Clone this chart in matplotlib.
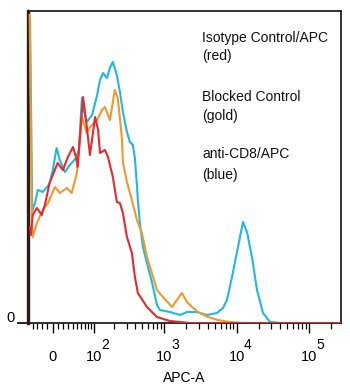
#!/usr/bin/env python3
"""Flow cytometry histogram overlay: APC-A on a biexponential-like axis."""

import numpy as np
import matplotlib
matplotlib.use("Agg")
import matplotlib.pyplot as plt
from matplotlib import transforms
from matplotlib.ticker import FixedLocator, NullFormatter

plt.rcParams["font.family"] = ["Liberation Sans", "DejaVu Sans"]

# APC-A intensity (x) and event count (y)
cyan_apc = [-46, -41, -35, -29, -19, -9, -6, 0, 7, 13,
            23, 33, 47, 54, 62, 67, 76, 93, 112, 124,
            138, 157, 174, 192, 219, 242, 267, 304, 335, 368,
            393, 419, 432, 461, 508, 577, 677, 794, 873, 1199,
            1650, 2059, 2826, 3884, 5335, 6458, 7330, 8600, 10395, 12186,
            13835, 16200, 19000, 23000, 28724, 40000, 262144]
cyan_count = [302, 112, 120, 133, 131, 137, 140, 153, 175, 163,
              151, 158, 165, 173, 225, 213, 201, 208, 228, 243,
              250, 245, 255, 261, 248, 231, 211, 191, 181, 178,
              165, 138, 123, 100, 76, 60, 41, 18, 13, 11,
              8, 11, 11, 8, 10, 15, 23, 46, 76, 101,
              91, 66, 33, 10, 1, 0, 0]

red_apc = [-46, -44, -40, -31, -21, -15, -6, 9, 19, 29,
           40, 47, 51, 65, 76, 86, 104, 116, 124, 147,
           163, 192, 219, 242, 267, 304, 357, 393, 432, 577,
           794, 1199, 2264, 262144]
red_count = [96, 88, 108, 115, 108, 118, 140, 160, 153, 166,
             176, 166, 156, 226, 196, 168, 206, 193, 170, 173,
             166, 146, 121, 120, 110, 86, 70, 46, 30, 16,
             6, 2, 0, 0]

orange_apc = [-47, -42, -40, -31, -19, -9, 4, 13, 27, 37,
              49, 62, 76, 86, 112, 133, 147, 174, 205, 226,
              242, 258, 267, 304, 357, 419, 492, 577, 677, 794,
              961, 1280, 1755, 2059, 2416, 2919, 4013, 5511, 8067, 12000,
              262144]
orange_count = [308, 100, 86, 100, 113, 120, 136, 130, 135, 130,
                150, 206, 190, 196, 203, 213, 216, 203, 233, 225,
                205, 185, 161, 141, 123, 103, 90, 66, 50, 33,
                26, 16, 30, 21, 16, 11, 6, 3, 1, 0,
                0]

major_ticks = [0, 100, 1000, 10000, 100000]
major_exponents = [None, "2", "3", "4", "5"]
minor_ticks = ([-40, -30, -20, -10]
               + list(range(10, 100, 10))
               + list(range(200, 1000, 100))
               + list(range(2000, 10000, 1000))
               + list(range(20000, 100000, 10000))
               + [200000])

legend_lines = ["Isotype Control/APC", "(red)", "Blocked Control", "(gold)",
                "anti-CD8/APC", "(blue)"]

W = 58.5  # linear width of the asinh transform


def fwd(x):
    return np.arcsinh(np.asarray(x, dtype=float) / W)


def inv(y):
    return W * np.sinh(np.asarray(y, dtype=float))


def main():
    dpi = 100
    fig = plt.figure(figsize=(3.50, 3.89), dpi=dpi)
    ax = fig.add_axes([28 / 350, 1 - 323 / 389, 313 / 350, 312 / 389])
    ax.set_xscale("function", functions=(fwd, inv))

    ax.plot(cyan_apc, cyan_count, color="#22b8e0", lw=1.5, zorder=3)
    ax.plot(orange_apc, orange_count, color="#f3982e", lw=1.5, zorder=3)
    ax.plot(red_apc, red_count, color="#e42a2e", lw=1.5, zorder=3)

    ax.set_xlim(-51, 273000)
    ax.set_ylim(0, 312)

    ax.xaxis.set_major_locator(FixedLocator(major_ticks))
    ax.xaxis.set_minor_locator(FixedLocator(minor_ticks))
    ax.xaxis.set_major_formatter(NullFormatter())
    ax.xaxis.set_minor_formatter(NullFormatter())
    ax.tick_params(axis="x", which="major", direction="out", length=7,
                   width=1, color="black")
    ax.tick_params(axis="x", which="minor", direction="out", length=4,
                   width=0.9, color="black")
    ax.set_yticks([0])
    ax.set_yticklabels([""])
    ax.tick_params(axis="y", direction="out", length=8, width=1.2,
                   color="black")

    for side in ("top", "right", "bottom"):
        ax.spines[side].set_color("#222222")
        ax.spines[side].set_linewidth(1.3)
    ax.spines["left"].set_color("#2a1c12")
    ax.spines["left"].set_linewidth(2.4)

    # tick labels: "10" with a large raised exponent, as in the cytometer export
    xt = ax.get_xaxis_transform()
    exp_tr = transforms.offset_copy(xt, fig=fig, x=7, y=0, units="dots")
    y_base = (323 - 357) / 312
    y_exp = (323 - 345) / 312
    for tick, ex in zip(major_ticks, major_exponents):
        if ex is None:
            ax.text(tick, y_base, "0", transform=xt, ha="center",
                    va="center", fontsize=10.5)
        else:
            ax.text(tick, y_base, "10", transform=xt, ha="center",
                    va="center", fontsize=10.5)
            ax.text(tick, y_exp, ex, transform=exp_tr, ha="left",
                    va="center", fontsize=10)

    ax.text((10 - 28) / 313, 5, "0", transform=ax.get_yaxis_transform(),
            ha="center", va="center", fontsize=10.5)

    ax.set_xlabel("APC-A", fontsize=10)
    ax.xaxis.set_label_coords((184 - 28) / 313, (323 - 378) / 312)
    ax.xaxis.label.set_va("center")

    legend_y = [38, 56, 97, 116, 154, 175]
    for txt, py in zip(legend_lines, legend_y):
        fig.text(202 / 350, 1 - py / 389, txt, ha="left", va="center",
                 fontsize=10, color="#111111")

    fig.savefig("out.png", dpi=dpi)
    plt.close(fig)


if __name__ == "__main__":
    main()
